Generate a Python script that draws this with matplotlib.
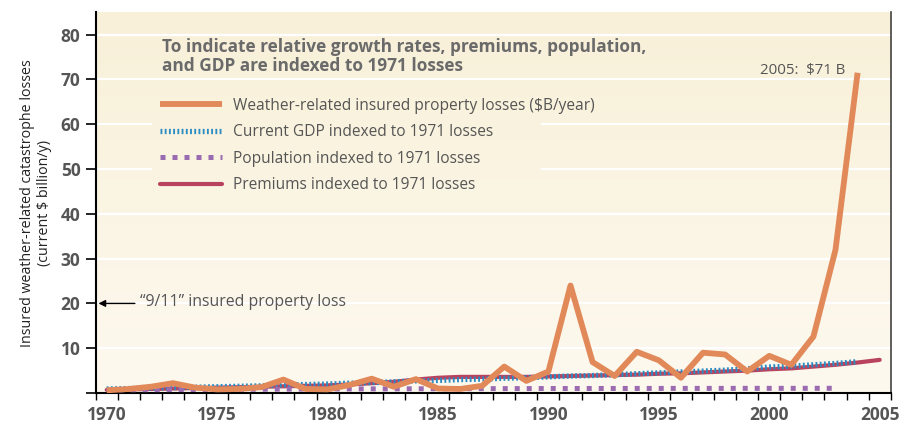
import numpy as np
import matplotlib
matplotlib.use("Agg")
import matplotlib.pyplot as plt

plt.rcParams['font.family'] = ['Open Sans', 'DejaVu Sans']

# ---------- Data ----------
loss_years = list(range(1970, 2005))
losses = [0.6, 0.9, 1.4, 2.2, 1.2, 0.8, 0.9, 1.3, 3.0, 0.9,
          0.8, 1.8, 3.2, 1.4, 3.1, 1.0, 0.9, 1.6, 5.9, 2.7,
          4.8, 24.0, 6.9, 3.8, 9.2, 7.3, 3.4, 9.0, 8.6, 4.8,
          8.3, 6.3, 12.6, 32.0, 71.5]

gdp_years = list(range(1970, 2005))
gdp = [0.9, 1.0, 1.1, 1.2, 1.3, 1.4, 1.5, 1.6, 1.8, 1.9,
       2.0, 2.2, 2.3, 2.5, 2.7, 2.8, 3.0, 3.1, 3.3, 3.4,
       3.6, 3.8, 3.9, 4.1, 4.3, 4.5, 4.7, 4.9, 5.1, 5.4,
       5.8, 6.0, 6.3, 6.6, 7.0]

pop_years = list(range(1970, 2004))
population = [0.70, 0.72, 0.74, 0.76, 0.78, 0.80, 0.82, 0.84, 0.86, 0.88,
              0.90, 0.91, 0.92, 0.93, 0.94, 0.95, 0.96, 0.97, 0.98, 0.99,
              1.00, 1.00, 1.01, 1.01, 1.02, 1.02, 1.03, 1.03, 1.03, 1.04,
              1.04, 1.04, 1.05, 1.05]

prem_years = list(range(1970, 2006))
premiums = [0.7, 0.8, 0.9, 1.0, 1.1, 1.2, 1.3, 1.4, 1.5, 1.6,
            1.7, 1.9, 2.2, 2.5, 3.0, 3.4, 3.6, 3.6, 3.6, 3.6,
            3.7, 3.8, 3.9, 4.0, 4.1, 4.3, 4.4, 4.6, 4.8, 5.0,
            5.3, 5.5, 5.9, 6.3, 6.8, 7.4]

y_ticks = [0, 10, 20, 30, 40, 50, 60, 70, 80]
y_tick_labels = ["", "10", "20", "30", "40", "50", "60", "70", "80"]
x_ticks = [1970, 1975, 1980, 1985, 1990, 1995, 2000, 2005]
x_tick_labels = [str(y) for y in x_ticks]

# ---------- Figure ----------
fig = plt.figure(figsize=(9.01, 4.24), dpi=100)
ax = fig.add_axes([0.1062, 0.0731, 0.8824, 0.8979])
ax.set_xlim(1969.5, 2005.5)

# cream gradient background, a bit darker at the top
grad = np.linspace(0, 1, 256).reshape(-1, 1)
cmap = matplotlib.colors.LinearSegmentedColormap.from_list("cream", ["#f8f0d8", "#fdf9ef"])
ax.imshow(grad, extent=[1969.5, 2005.5, 0, 85], origin="upper", aspect="auto", cmap=cmap, zorder=0)
ax.set_ylim(0, 85)

# white gridlines; the ones behind the legend are broken around it
for yv in y_ticks[1:]:
    if yv in (50, 60):
        ax.hlines(yv, 1969.5, 1972.05, color="white", lw=1.6, zorder=1)
        ax.hlines(yv, 1989.67, 2005.5, color="white", lw=1.6, zorder=1)
    else:
        ax.axhline(yv, color="white", lw=1.6, zorder=1)

l_prem, = ax.plot(prem_years, premiums, color="#b8435f", lw=3.0, solid_capstyle="round",
                  zorder=3, label="Premiums indexed to 1971 losses")
l_gdp, = ax.plot(gdp_years, gdp, color="#2a8cc3", lw=3.8, dashes=(0.35, 0.45),
                 zorder=4, label="Current GDP indexed to 1971 losses")
l_pop, = ax.plot(pop_years, population, color="#9a6bb0", lw=3.6, dashes=(1.0, 1.4),
                 zorder=4, label="Population indexed to 1971 losses")
l_loss, = ax.plot(loss_years, losses, color="#e2895a", lw=4.2, solid_joinstyle="round",
                  solid_capstyle="butt", zorder=5,
                  label="Weather-related insured property losses ($B/year)")

leg = ax.legend(handles=[l_loss, l_gdp, l_pop, l_prem], loc="center left",
                bbox_to_anchor=(0.081, 0.650), frameon=False, fontsize=11.2,
                handlelength=4.0, handletextpad=0.7, labelspacing=0.67,
                borderaxespad=0, borderpad=0, labelcolor="#555555")
leg.set_zorder(6)

ax.text(1972.5, 79.3, "To indicate relative growth rates, premiums, population,\nand GDP are indexed to 1971 losses",
        fontsize=12.4, fontweight="bold", color="#6a6a6a", va="top", ha="left", linespacing=1.05, zorder=6)

ax.text(2003.45, 72, "2005:  $71 B", fontsize=10.8, color="#555555", ha="right", va="center", zorder=6)

ax.annotate("", xy=(1969.5, 20), xytext=(1971.4, 20),
            arrowprops=dict(arrowstyle="-|>", color="black", lw=1.0, mutation_scale=10), zorder=6)
ax.text(1971.5, 20.3, "\u201c9/11\u201d insured property loss", fontsize=11.4, color="#555555",
        ha="left", va="center", zorder=6)

# ---------- Axes styling ----------
ax.spines["top"].set_visible(False)
ax.spines["left"].set_linewidth(1.5)
ax.spines["bottom"].set_linewidth(1.5)
ax.spines["right"].set_linewidth(1.2)
ax.spines["right"].set_color("#444444")

ax.set_yticks(y_ticks)
ax.set_yticklabels(y_tick_labels, fontweight="bold", fontsize=12.5, color="#555555")
ax.tick_params(axis="y", direction="out", length=7, width=1.2, pad=4)

ax.set_xticks(x_ticks)
ax.set_xticklabels(x_tick_labels, fontweight="bold", fontsize=12.5, color="#555555")
ax.set_xticks(np.arange(1969.5, 2006, 1.0), minor=True)
ax.tick_params(axis="x", which="major", length=0, pad=9)
ax.tick_params(axis="x", which="minor", direction="out", length=5, width=1.0)

ax.set_ylabel("Insured weather-related catastrophe losses\n(current $ billion/y)",
              fontsize=10.3, color="#222222", labelpad=6)

fig.savefig("out.png", dpi=100, facecolor="white")
